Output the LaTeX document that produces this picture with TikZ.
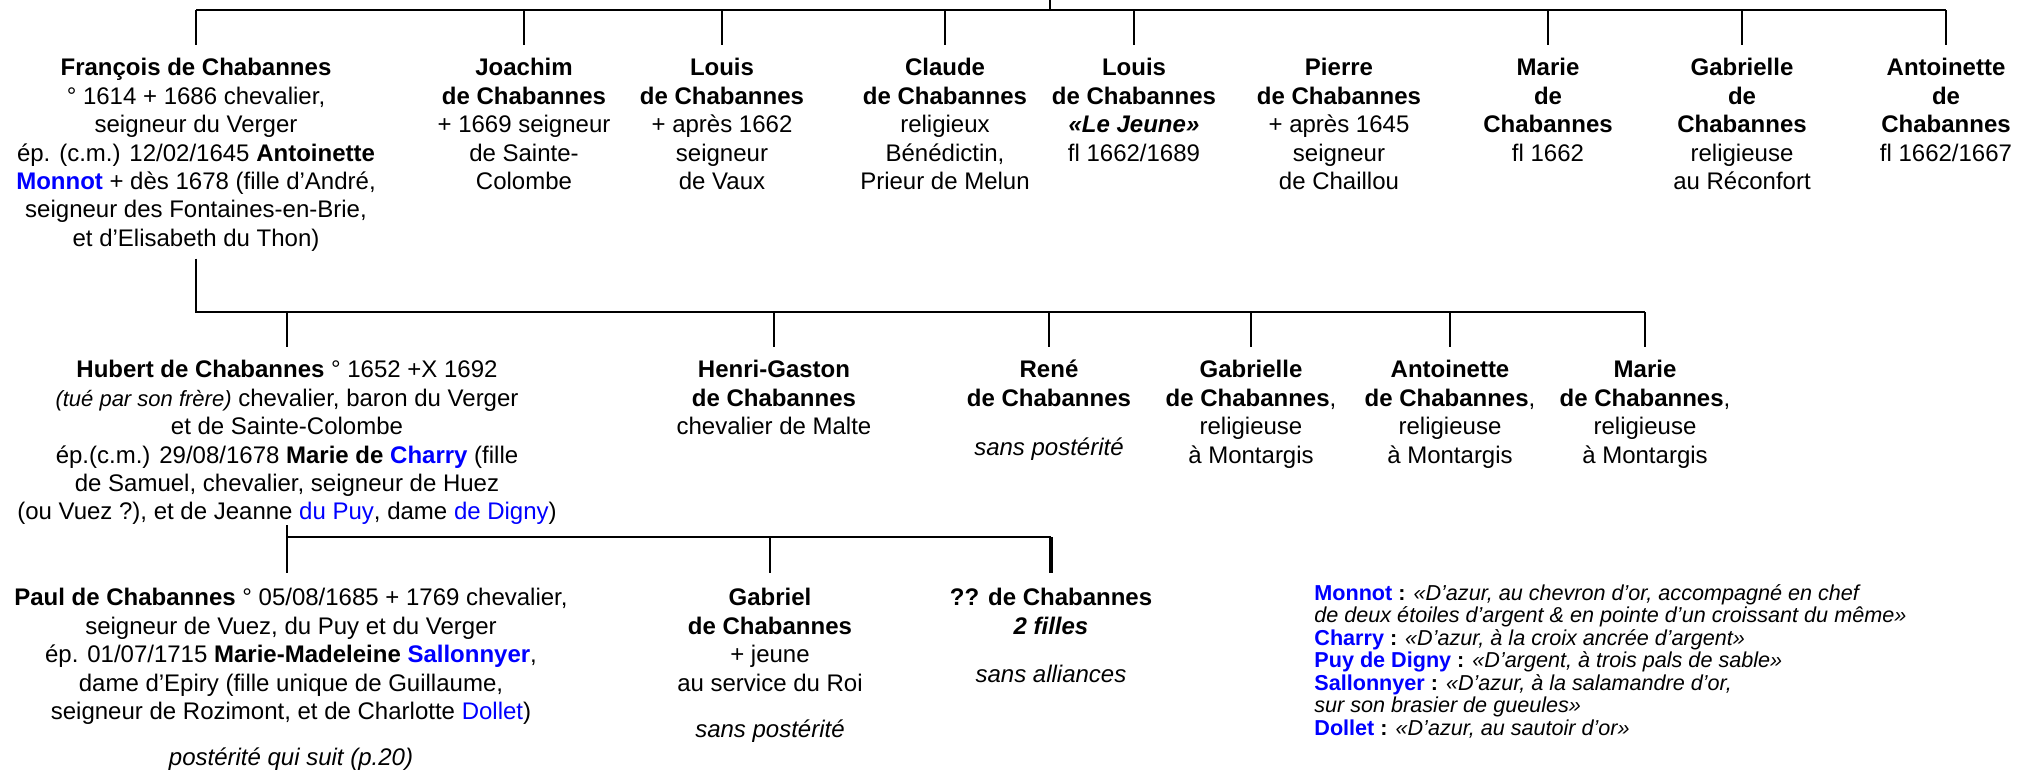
\documentclass[tikz,border=0pt]{standalone}
\usepackage{fontspec}
\setmainfont{Liberation Sans}
\definecolor{armblue}{RGB}{0,0,255}
\newcommand{\fst}{\rule{0pt}{9pt}}
\newcommand{\bl}[1]{{\color{armblue}#1}}

\begin{document}
\begin{tikzpicture}[x=0.5pt,y=-0.5pt,
  person/.style={anchor=north, align=center, inner sep=0pt, font=\fontsize{12pt}{14.2pt}\selectfont},
  bus/.style={line width=1.3pt},
  stub/.style={line width=1pt},
  thickstub/.style={line width=1.9pt}]

  \useasboundingbox (0,0) rectangle (2020,771);

  % First generation
  \node[person] (francois) at (196,57.5) {\fst\textbf{François de Chabannes}\\
    ° 1614 + 1686 chevalier,\\
    seigneur du Verger\\
    ép. (c.m.) 12/02/1645 \textbf{Antoinette}\\
    \textbf{\bl{Monnot}} + dès 1678 (fille d’André,\\
    seigneur des Fontaines-en-Brie,\\
    et d’Elisabeth du Thon)};
  \node[person] (joachim) at (524,57.5) {\fst\textbf{Joachim}\\\textbf{de Chabannes}\\+ 1669 seigneur\\de Sainte-\\Colombe};
  \node[person] (louisA) at (722,57.5) {\fst\textbf{Louis}\\\textbf{de Chabannes}\\+ après 1662\\seigneur\\de Vaux};
  \node[person] (claude) at (945,57.5) {\fst\textbf{Claude}\\\textbf{de Chabannes}\\religieux\\Bénédictin,\\Prieur de Melun};
  \node[person] (louisB) at (1134,57.5) {\fst\textbf{Louis}\\\textbf{de Chabannes}\\\textbf{\textit{«Le Jeune»}}\\fl 1662/1689};
  \node[person] (pierre) at (1339,57.5) {\fst\textbf{Pierre}\\\textbf{de Chabannes}\\+ après 1645\\seigneur\\de Chaillou};
  \node[person] (marieA) at (1548,57.5) {\fst\textbf{Marie}\\\textbf{de}\\\textbf{Chabannes}\\fl 1662};
  \node[person] (gabrielleA) at (1742,57.5) {\fst\textbf{Gabrielle}\\\textbf{de}\\\textbf{Chabannes}\\religieuse\\au Réconfort};
  \node[person] (antoinetteA) at (1946,57.5) {\fst\textbf{Antoinette}\\\textbf{de}\\\textbf{Chabannes}\\fl 1662/1667};

  % Second generation
  \node[person] (hubert) at (287,359.5) {\fst\textbf{Hubert de Chabannes} ° 1652 +X 1692\\
    {\fontsize{11pt}{14.2pt}\selectfont\itshape (tué par son frère)} chevalier, baron du Verger\\
    et de Sainte-Colombe\\
    ép.(c.m.) 29/08/1678 \textbf{Marie de \bl{Charry}} (fille\\
    de Samuel, chevalier, seigneur de Huez\\
    (ou Vuez ?), et de Jeanne \bl{du Puy}, dame \bl{de Digny})};
  \node[person] (henri) at (774,359.5) {\fst\textbf{Henri-Gaston}\\\textbf{de Chabannes}\\chevalier de Malte};
  \node[person] (rene) at (1049,359.5) {\fst\textbf{René}\\\textbf{de Chabannes}\\[10.6pt]\textit{sans postérité}};
  \node[person] (gabrielleB) at (1251,359.5) {\fst\textbf{Gabrielle}\\\textbf{de Chabannes},\\religieuse\\à Montargis};
  \node[person] (antoinetteB) at (1450,359.5) {\fst\textbf{Antoinette}\\\textbf{de Chabannes},\\religieuse\\à Montargis};
  \node[person] (marieB) at (1645,359.5) {\fst\textbf{Marie}\\\textbf{de Chabannes},\\religieuse\\à Montargis};

  % Third generation
  \node[person] (paul) at (291,587.5) {\fst\textbf{Paul de Chabannes} ° 05/08/1685 + 1769 chevalier,\\
    seigneur de Vuez, du Puy et du Verger\\
    ép. 01/07/1715 \textbf{Marie-Madeleine \bl{Sallonnyer}},\\
    dame d’Epiry (fille unique de Guillaume,\\
    seigneur de Rozimont, et de Charlotte \bl{Dollet})\\[9pt]
    \textit{postérité qui suit (p.20)}};
  \node[person] (gabriel) at (770,587.5) {\fst\textbf{Gabriel}\\\textbf{de Chabannes}\\+ jeune\\au service du Roi\\[9pt]\textit{sans postérité}};
  \node[person] (inconnu) at (1051,587.5) {\fst\textbf{?? de Chabannes}\\\textbf{\textit{2 filles}}\\[10pt]\textit{sans alliances}};

  % Arms
  \node[anchor=north west, align=left, inner sep=0pt, font=\fontsize{10.8pt}{11.25pt}\selectfont] (armes) at (1314,583.3) {%
    \rule{0pt}{8.2pt}\textbf{\bl{Monnot} :} \textit{«D’azur, au chevron d’or, accompagné en chef}\\
    \textit{de deux étoiles d’argent \& en pointe d’un croissant du même»}\\
    \textbf{\bl{Charry} :} \textit{«D’azur, à la croix ancrée d’argent»}\\
    \textbf{\bl{Puy de Digny} :} \textit{«D’argent, à trois pals de sable»}\\
    \textbf{\bl{Sallonnyer} :} \textit{«D’azur, à la salamandre d’or,}\\
    \textit{sur son brasier de gueules»}\\
    \textbf{\bl{Dollet} :} \textit{«D’azur, au sautoir d’or»}};

  % Lines of the first generation
  \coordinate (top) at (1050,0);
  \coordinate (rowA) at (0,10);
  \draw[bus] (francois.north |- rowA) -- (antoinetteA.north |- rowA);
  \draw[bus] (top) -- (top |- rowA);
  \foreach \n in {francois,joachim,louisA,claude,louisB,marieA,gabrielleA,antoinetteA}
    \draw[stub] (\n.north |- rowA) -- ([yshift=6.25pt]\n.north);

  % Lines of the second generation
  \coordinate (rowB) at (0,312);
  \draw[bus] ([yshift=-3.5pt]francois.south) -- (francois.south |- rowB) -- (marieB.north |- rowB);
  \foreach \n in {hubert,henri,rene,gabrielleB,antoinetteB,marieB}
    \draw[stub] (\n.north |- rowB) -- ([yshift=6.25pt]\n.north);

  % Lines of the third generation
  \coordinate (rowC) at (0,537);
  \draw[stub] (hubert.south) -- ([yshift=7.25pt]hubert.south |- paul.north);
  \draw[bus] (hubert.south |- rowC) -- (inconnu.north |- rowC);
  \draw[stub] (gabriel.north |- rowC) -- ([yshift=7.25pt]gabriel.north);
  \draw[thickstub] (inconnu.north |- rowC) -- ([yshift=7.25pt]inconnu.north);
\end{tikzpicture}
\end{document}
